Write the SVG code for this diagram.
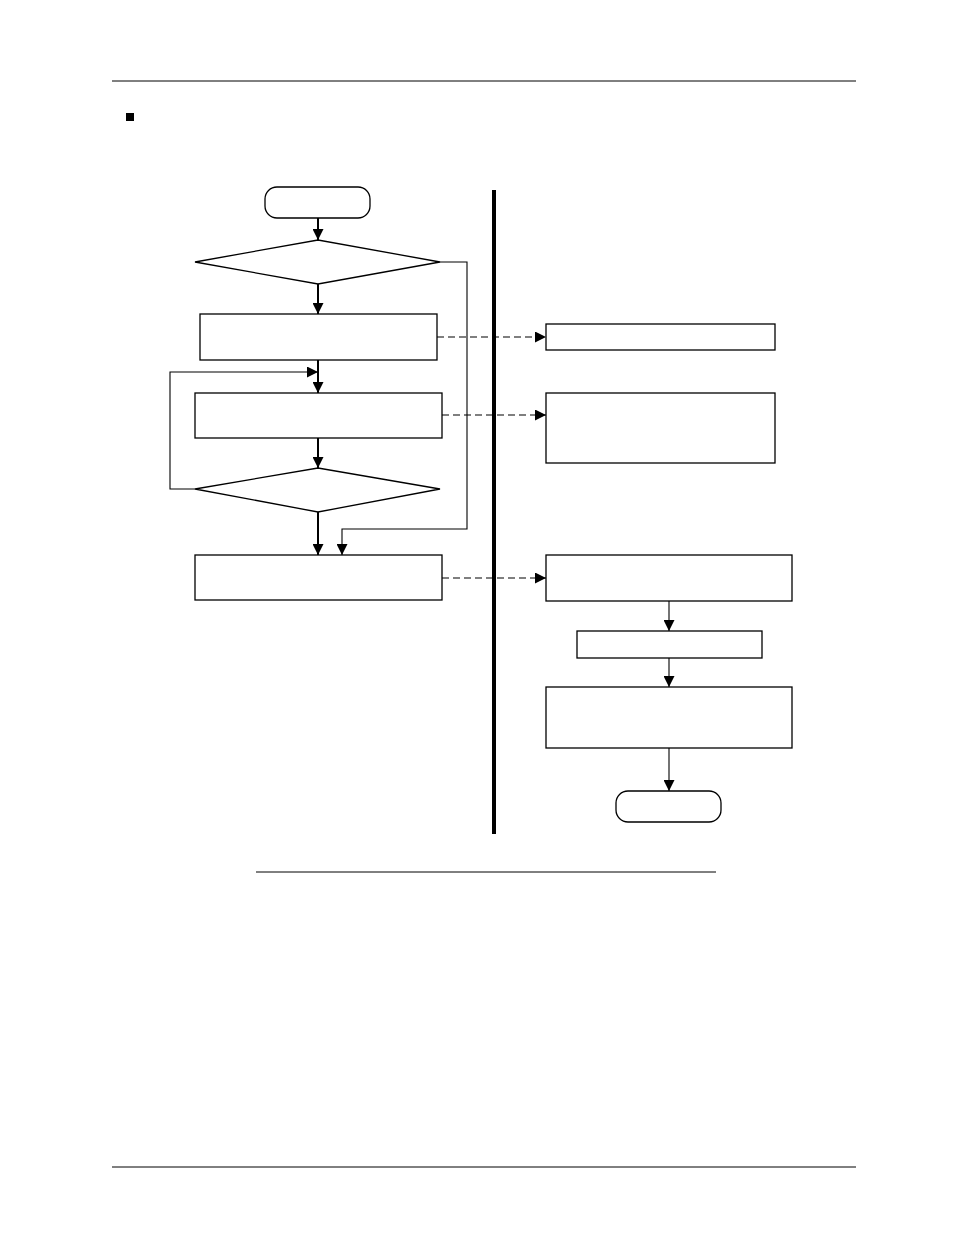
<svg xmlns="http://www.w3.org/2000/svg" width="954" height="1235" viewBox="0 0 954 1235">
<style>
.s{fill:#fff;stroke:#000;stroke-width:1.3}
.b{fill:#fff;stroke:#000;stroke-width:1.3}
.c{fill:none;stroke:#000;stroke-width:1.1}
.t{fill:none;stroke:#000;stroke-width:2}
.d{fill:none;stroke:#000;stroke-width:1.1;stroke-dasharray:7,4}
</style>
<defs><marker id="a" viewBox="0 0 10 10" refX="10" refY="5" markerWidth="11" markerHeight="11" markerUnits="userSpaceOnUse" orient="auto"><path d="M0,0L10,5L0,10z" fill="#000"/></marker></defs>
<rect width="954" height="1235" fill="#fff"/>
<line x1="112" y1="81" x2="856" y2="81" stroke="#000"/>
<line x1="112" y1="1167" x2="856" y2="1167" stroke="#000"/>
<rect x="126" y="113" width="8" height="8" fill="#000"/>
<line x1="256" y1="872" x2="716" y2="872" stroke="#000"/>
<line x1="494" y1="190" x2="494" y2="834" stroke="#000" stroke-width="4"/>
<g id="start"><rect class="s" x="265" y="187" width="105" height="31" rx="12"/></g>
<g id="dec1"><polygon class="s" points="195,262 318,240 440,262 318,284"/></g>
<g id="box1"><rect class="b" x="200" y="314" width="237" height="46"/></g>
<g id="box2"><rect class="b" x="195" y="393" width="247" height="45"/></g>
<g id="dec2"><polygon class="s" points="195,489 318,468 440,489 318,512"/></g>
<g id="box3"><rect class="b" x="195" y="555" width="247" height="45"/></g>
<g id="r1"><rect class="b" x="546" y="324" width="229" height="26"/></g>
<g id="r2"><rect class="b" x="546" y="393" width="229" height="70"/></g>
<g id="r3"><rect class="b" x="546" y="555" width="246" height="46"/></g>
<g id="r4"><rect class="b" x="577" y="631" width="185" height="27"/></g>
<g id="r5"><rect class="b" x="546" y="687" width="246" height="61"/></g>
<g id="end"><rect class="s" x="616" y="791" width="105" height="31" rx="12"/></g>
<g id="connectors">
<line class="t" x1="318" y1="218" x2="318" y2="240" marker-end="url(#a)"/>
<line class="t" x1="318" y1="284" x2="318" y2="314" marker-end="url(#a)"/>
<line class="t" x1="318" y1="360" x2="318" y2="393" marker-end="url(#a)"/>
<line class="t" x1="318" y1="438" x2="318" y2="468" marker-end="url(#a)"/>
<line class="t" x1="318" y1="512" x2="318" y2="555" marker-end="url(#a)"/>
<polyline class="c" points="195,489 170,489 170,372 318,372" marker-end="url(#a)"/>
<polyline class="c" points="440,262 467,262 467,529 342,529 342,555" marker-end="url(#a)"/>
<line class="d" x1="437" y1="337" x2="546" y2="337" marker-end="url(#a)"/>
<line class="d" x1="442" y1="415" x2="546" y2="415" marker-end="url(#a)"/>
<line class="d" x1="442" y1="578" x2="546" y2="578" marker-end="url(#a)"/>
<line class="c" x1="669" y1="601" x2="669" y2="631" marker-end="url(#a)"/>
<line class="c" x1="669" y1="658" x2="669" y2="687" marker-end="url(#a)"/>
<line class="c" x1="669" y1="748" x2="669" y2="791" marker-end="url(#a)"/>
</g>
</svg>
